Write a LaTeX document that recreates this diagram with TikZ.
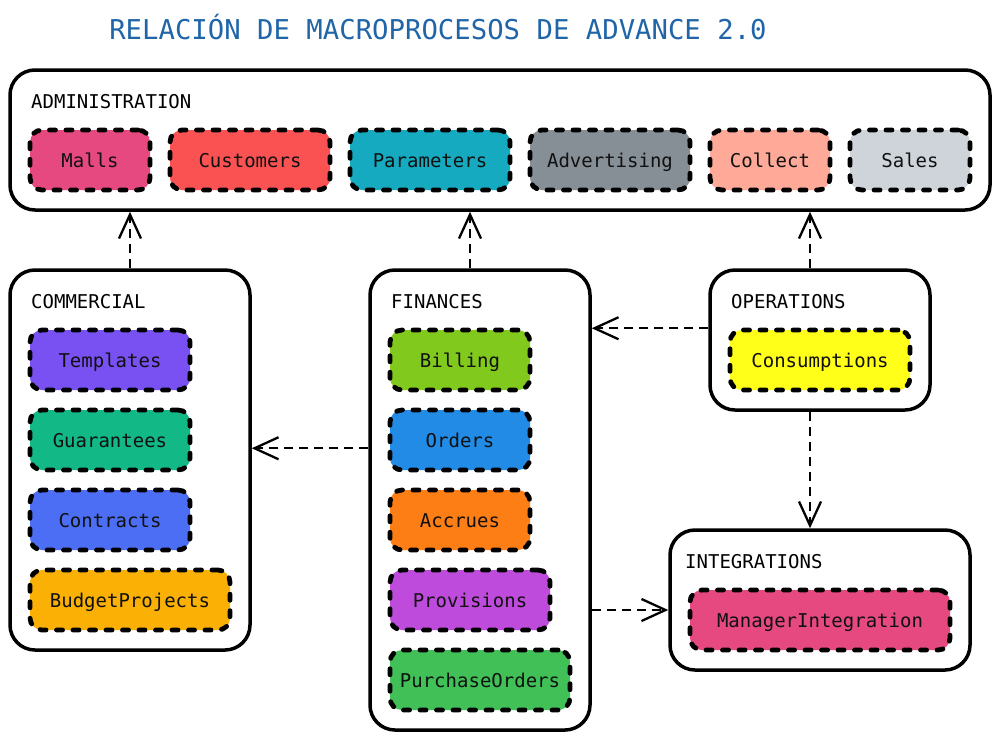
\documentclass[tikz,border=0pt]{standalone}
\usepackage{fontspec}
\setmonofont{DejaVu Sans Mono}
\usetikzlibrary{arrows.meta,calc}
\definecolor{cMalls}{HTML}{E64980}
\definecolor{cCustomers}{HTML}{FA5252}
\definecolor{cParameters}{HTML}{15AABF}
\definecolor{cAdvertising}{HTML}{868E96}
\definecolor{cCollect}{HTML}{FFA998}
\definecolor{cSales}{HTML}{CED4DA}
\definecolor{cTemplates}{HTML}{7950F2}
\definecolor{cGuarantees}{HTML}{12B886}
\definecolor{cContracts}{HTML}{4C6EF5}
\definecolor{cBudget}{HTML}{FAB005}
\definecolor{cBilling}{HTML}{82C91E}
\definecolor{cOrders}{HTML}{228BE6}
\definecolor{cAccrues}{HTML}{FD7E14}
\definecolor{cProvisions}{HTML}{BE4BDB}
\definecolor{cPurchase}{HTML}{40C057}
\definecolor{cConsumptions}{HTML}{FFFF1A}
\definecolor{cManager}{HTML}{E64980}
\definecolor{cTitle}{HTML}{1F65A8}
\definecolor{cText}{HTML}{111111}
\tikzset{
  group/.style={draw=black, line width=3.5pt, rounded corners=25pt, fill=white, inner sep=0pt},
  grouplabel/.style={anchor=west, inner sep=0pt, font=\fontsize{19}{22}\selectfont\ttfamily},
  proc/.style={draw=black, line width=4.8pt, line cap=round, dash pattern=on 6pt off 10.5pt, rounded corners=12pt,
    inner sep=0pt, minimum height=60pt, text height=14pt, text depth=0pt,
    text=cText, font=\fontsize{19}{22}\selectfont\ttfamily},
  dep/.style={line width=2.3pt, dash pattern=on 9pt off 6pt,
    -{Straight Barb[length=24pt,width=22pt,line width=2.3pt]}},
}
\begin{document}
\begin{tikzpicture}[x=1pt,y=-1pt]
\useasboundingbox (0,0) rectangle (1000,740);
\node[text=cTitle, font=\fontsize{27.3}{30}\selectfont\ttfamily, inner sep=0pt] (title) at (438,27) {RELACIÓN DE MACROPROCESOS DE ADVANCE 2.0};

% groups
\node[group, minimum width=980pt, minimum height=140pt] (adm) at (500,140) {};
\node[group, minimum width=240pt, minimum height=380pt] (com) at (130,460) {};
\node[group, minimum width=220pt, minimum height=460pt] (fin) at (480,500) {};
\node[group, minimum width=220pt, minimum height=140pt] (ops) at (820,340) {};
\node[group, minimum width=300pt, minimum height=140pt] (int) at (820,600) {};

\node[grouplabel] (admL) at (31,102) {ADMINISTRATION};
\node[grouplabel] (comL) at (31,302) {COMMERCIAL};
\node[grouplabel] (finL) at (391,302) {FINANCES};
\node[grouplabel] (opsL) at (731,302) {OPERATIONS};
\node[grouplabel] (intL) at (685,562) {INTEGRATIONS};

% administration
\node[proc, fill=cMalls, minimum width=120pt] (malls) at (90,160) {Malls};
\node[proc, fill=cCustomers, minimum width=160pt] (cust) at (250,160) {Customers};
\node[proc, fill=cParameters, minimum width=160pt] (param) at (430,160) {Parameters};
\node[proc, fill=cAdvertising, minimum width=160pt] (adv) at (610,160) {Advertising};
\node[proc, fill=cCollect, minimum width=120pt] (coll) at (770,160) {Collect};
\node[proc, fill=cSales, minimum width=120pt] (sales) at (910,160) {Sales};

% commercial
\node[proc, fill=cTemplates, minimum width=160pt] (tmpl) at (110,360) {Templates};
\node[proc, fill=cGuarantees, minimum width=160pt] (guar) at (110,440) {Guarantees};
\node[proc, fill=cContracts, minimum width=160pt] (contr) at (110,520) {Contracts};
\node[proc, fill=cBudget, minimum width=200pt] (budg) at (130,600) {BudgetProjects};

% finances
\node[proc, fill=cBilling, minimum width=140pt] (bill) at (460,360) {Billing};
\node[proc, fill=cOrders, minimum width=140pt] (ord) at (460,440) {Orders};
\node[proc, fill=cAccrues, minimum width=140pt] (accr) at (460,520) {Accrues};
\node[proc, fill=cProvisions, minimum width=160pt] (prov) at (470,600) {Provisions};
\node[proc, fill=cPurchase, minimum width=180pt] (purch) at (480,680) {PurchaseOrders};

% operations / integrations
\node[proc, fill=cConsumptions, minimum width=180pt] (cons) at (820,360) {Consumptions};
\node[proc, fill=cManager, minimum width=260pt] (mgr) at (820,620) {ManagerIntegration};

% dependencies
\draw[dep] (com.north) -- (com.north |- adm.south);
\draw[dep] ([xshift=-10pt]fin.north) -- ([xshift=-10pt]fin.north |- adm.south);
\draw[dep] ([xshift=-10pt]ops.north) -- ([xshift=-10pt]ops.north |- adm.south);
\draw[dep] ([yshift=-60pt]ops.north west) -- ([yshift=-60pt]ops.north west -| fin.east);
\draw[dep] ([yshift=-180pt]fin.north west) -- ([yshift=-180pt]fin.north west -| com.east);
\draw[dep] ([xshift=-10pt]ops.south) -- ([xshift=-10pt]ops.south |- int.north);
\draw[dep] ([yshift=-10pt]int.west -| fin.east) -- ([yshift=-10pt]int.west);
\end{tikzpicture}
\end{document}
